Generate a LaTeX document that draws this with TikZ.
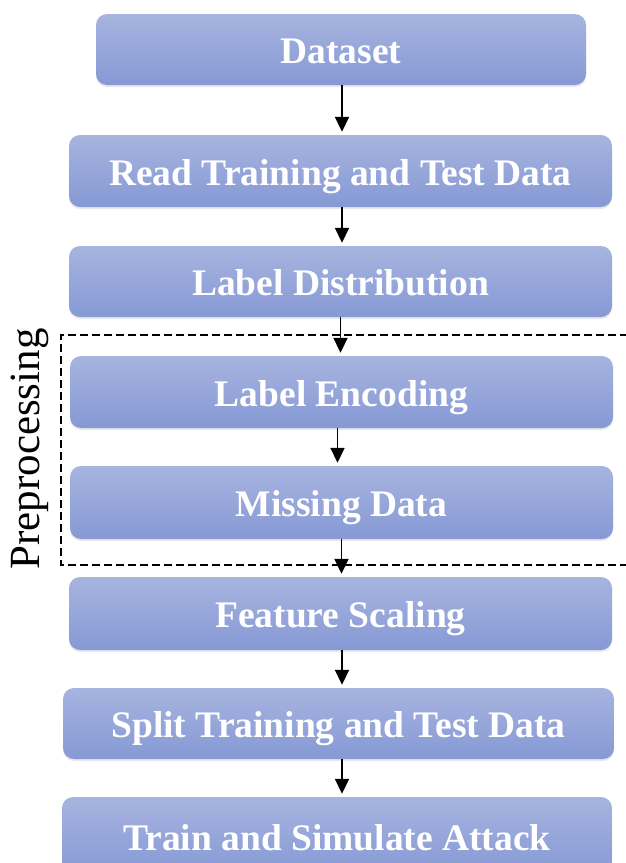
\documentclass[tikz,border=0pt]{standalone}
\usepackage{fontspec}
\setmainfont{Liberation Serif}
\usetikzlibrary{arrows.meta,shadows,calc}
\definecolor{boxtop}{RGB}{167,180,223}
\definecolor{boxbot}{RGB}{134,153,213}
\tikzset{
  stepbox/.style={rounded corners=11pt, top color=boxtop, bottom color=boxbot, draw=none,
    text=white, font=\fontsize{37.5}{40}\selectfont\bfseries, inner sep=0pt,
    text height=28pt, text depth=0pt,
    drop shadow={opacity=0.18, shadow xshift=0pt, shadow yshift=-2pt}},
  flow/.style={line width=1.8pt, -{Triangle[width=14pt,length=15pt]}, shorten >=3pt},
  prebox/.style={line width=1.9pt, dash pattern=on 8pt off 4pt},
}
\begin{document}
\begin{tikzpicture}[x=1pt,y=-1pt]
\useasboundingbox (0,0) rectangle (626,863);
\clip (0,0) rectangle (626,863);
\node[stepbox, minimum width=490pt, minimum height=71pt] (n1) at (341,49.5) {Dataset};
\node[stepbox, minimum width=543pt, minimum height=72pt] (n2) at (340.5,171) {Read Training and Test Data};
\node[stepbox, minimum width=543pt, minimum height=71pt] (n3) at (340.5,281.5) {Label Distribution};
\node[stepbox, minimum width=543pt, minimum height=72pt] (n4) at (341.5,392) {Label Encoding};
\node[stepbox, minimum width=543pt, minimum height=73pt] (n5) at (341.5,502.5) {Missing Data};
\node[stepbox, minimum width=543pt, minimum height=73pt] (n6) at (340.5,613.5) {Feature Scaling};
\node[stepbox, minimum width=551pt, minimum height=71pt] (n7) at (338.5,723.5) {Split Training and Test Data};
\node[stepbox, minimum width=550pt, minimum height=78pt] (n8) at (337,836) {Train and Simulate Attack};
\coordinate (dtr) at (640,335);
\coordinate (dbl) at (61,565);
\draw[prebox] (dtr) -- (dbl |- dtr) -- (dbl) -- (dbl -| dtr);
\node[rotate=90, font=\fontsize{43}{45}\selectfont, inner sep=0pt] (pre) at (30,449) {Preprocessing};
\draw[flow] ($(n1.south)+(1,0)$) -- ($(n1.south |- n2.north)+(1,0)$);
\draw[flow] ($(n2.south)+(1.5,0)$) -- ($(n2.south |- n3.north)+(1.5,0)$);
\draw[flow] (n3.south) -- (n3.south |- n4.north);
\draw[flow] ($(n4.south)+(-4,0)$) -- ($(n4.south |- n5.north)+(-4,0)$);
\draw[flow] (n5.south) -- (n5.south |- n6.north);
\draw[flow] ($(n6.south)+(1.5,0)$) -- ($(n6.south |- n7.north)+(1.5,0)$);
\draw[flow] ($(n7.south)+(3.5,0)$) -- ($(n7.south |- n8.north)+(3.5,0)$);
\end{tikzpicture}
\end{document}
